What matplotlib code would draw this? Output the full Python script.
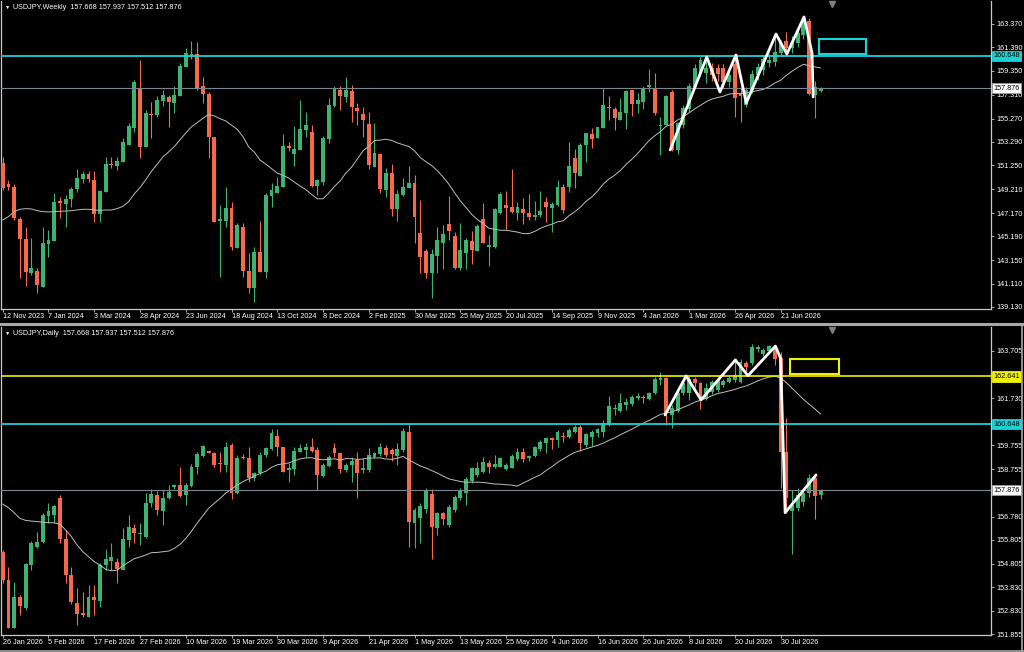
import numpy as np
import matplotlib
matplotlib.use("Agg")
import matplotlib.pyplot as plt
from matplotlib.patches import Rectangle
from matplotlib.lines import Line2D

plt.rcParams['font.family'] = ['Liberation Sans', 'DejaVu Sans']

# ---------------- weekly USDJPY ----------------
wk_open = [151.44, 149.64, 149.44, 146.67, 144.93, 142.01, 142.24, 140.82, 144.50, 144.81,
           148.21, 147.95, 148.35, 149.24, 150.07, 150.49, 150.01, 147.07, 149.01, 151.41,
           151.24, 151.58, 153.01, 154.43, 157.86, 152.84, 155.63, 155.58, 156.78, 157.09,
           156.63, 157.23, 159.72, 160.72, 160.83, 158.06, 157.38, 153.66, 146.53, 146.50,
           147.64, 144.21, 145.98, 142.21, 140.73, 143.81, 142.16, 148.64, 148.92, 149.38,
           152.89, 152.24, 152.58, 154.29, 154.09, 149.50, 149.81, 153.52, 156.35, 157.72,
           157.09, 157.66, 156.18, 155.66, 154.78, 151.15, 152.21, 149.15, 150.64, 147.52,
           148.72, 149.35, 149.72, 145.44, 143.96, 142.01, 143.53, 144.64, 146.24, 145.21,
           142.44, 143.79, 144.81, 143.96, 146.64, 144.30, 144.30, 147.15, 147.87, 147.72,
           147.15, 147.52, 147.15, 146.81, 147.01, 148.12, 147.58, 147.87, 149.44, 149.44,
           151.87, 150.35, 153.01, 153.95, 153.61, 154.43, 156.29, 156.06, 155.15, 155.72,
           157.72, 156.52, 156.72, 158.00, 157.86, 154.63, 154.72, 157.58, 152.58, 154.72,
           156.10, 158.00, 159.14, 159.14, 159.60, 159.60, 159.60, 158.40, 159.90, 157.50,
           156.45, 157.75, 159.00, 159.40, 160.00, 160.10, 160.90, 161.90, 161.30, 161.70,
           162.40, 163.60, 157.30, 157.668]
wk_high = [152.01, 150.01, 149.67, 146.87, 146.01, 145.01, 142.44, 146.01, 145.73, 148.87,
           148.58, 148.72, 149.44, 150.92, 150.78, 150.81, 150.81, 149.15, 152.01, 152.01,
           151.95, 153.58, 154.86, 158.57, 160.29, 156.00, 156.72, 157.20, 157.72, 157.29,
           158.06, 160.00, 161.29, 161.94, 161.86, 158.86, 157.57, 153.72, 147.87, 149.44,
           148.15, 146.30, 146.30, 143.79, 144.30, 146.50, 148.92, 149.72, 150.29, 153.95,
           153.29, 154.63, 156.86, 155.86, 154.72, 150.07, 153.78, 157.00, 158.06, 158.06,
           158.86, 158.15, 156.58, 156.23, 155.86, 154.86, 152.35, 151.01, 151.35, 149.15,
           150.15, 151.21, 150.44, 148.30, 144.07, 144.07, 145.96, 146.15, 148.64, 145.58,
           146.30, 145.01, 145.64, 146.21, 148.01, 145.30, 147.58, 149.01, 149.10, 150.92,
           148.15, 148.50, 148.81, 148.21, 149.10, 148.58, 148.15, 150.01, 149.64, 153.29,
           152.64, 153.15, 154.06, 154.43, 154.58, 157.86, 157.20, 156.29, 157.00, 157.72,
           157.72, 157.43, 158.06, 159.49, 159.20, 155.43, 157.29, 157.72, 155.00, 156.40,
           158.30, 159.90, 160.50, 160.60, 160.00, 159.90, 159.90, 159.40, 160.60, 158.00,
           158.00, 159.40, 160.00, 160.70, 160.80, 162.50, 162.00, 162.70, 162.30, 162.90,
           164.00, 163.90, 158.50, 157.937]
wk_low = [149.15, 149.15, 146.58, 141.59, 140.96, 141.87, 140.30, 140.82, 143.44, 144.81,
          146.73, 145.96, 147.72, 149.01, 149.72, 149.87, 146.44, 146.44, 149.01, 151.01,
          150.86, 151.58, 153.01, 154.15, 151.86, 152.81, 153.58, 155.43, 156.35, 154.52,
          155.72, 157.20, 159.66, 160.34, 157.72, 156.58, 151.92, 146.44, 141.67, 146.01,
          144.01, 144.21, 141.73, 140.30, 139.59, 142.10, 141.64, 147.72, 148.87, 149.38,
          152.52, 151.21, 152.58, 153.72, 149.44, 148.72, 149.58, 153.15, 156.23, 156.00,
          156.72, 155.01, 154.72, 153.72, 150.92, 151.15, 148.87, 148.58, 146.93, 146.53,
          148.67, 149.30, 144.58, 142.01, 141.59, 139.87, 142.01, 142.36, 144.87, 142.36,
          142.30, 142.36, 142.79, 143.93, 144.58, 142.64, 144.16, 147.07, 145.78, 147.21,
          146.58, 146.24, 146.58, 146.58, 146.81, 146.44, 145.53, 147.78, 147.21, 149.01,
          149.35, 150.35, 151.58, 152.72, 153.58, 154.43, 155.15, 154.29, 155.15, 154.38,
          155.52, 155.72, 156.06, 157.57, 155.58, 152.15, 154.72, 152.45, 152.20, 154.50,
          155.80, 157.90, 158.90, 158.30, 158.50, 158.50, 157.90, 158.00, 155.40, 155.00,
          156.30, 157.50, 158.60, 159.00, 159.70, 159.80, 160.60, 160.80, 160.90, 161.40,
          162.10, 157.30, 155.30, 157.512]
wk_close = [149.30, 149.44, 146.73, 144.93, 142.10, 142.44, 141.02, 144.58, 144.87, 148.12,
            148.07, 148.35, 149.24, 150.21, 150.52, 150.07, 147.07, 149.07, 151.38, 151.29,
            151.64, 153.29, 154.63, 158.40, 152.86, 155.78, 155.55, 156.86, 157.26, 156.72,
            157.29, 159.80, 160.86, 160.83, 157.80, 157.38, 153.72, 146.44, 146.64, 147.58,
            144.30, 146.15, 142.24, 140.79, 143.84, 142.10, 148.72, 149.15, 149.52, 152.92,
            152.72, 152.64, 154.35, 154.69, 149.52, 150.01, 153.58, 156.43, 157.80, 157.20,
            157.72, 156.23, 155.95, 155.15, 151.29, 152.35, 149.24, 150.64, 147.52, 148.81,
            149.38, 149.78, 146.81, 143.38, 142.01, 143.64, 144.87, 145.38, 145.64, 142.47,
            144.01, 144.87, 144.01, 146.07, 144.58, 144.44, 147.50, 148.81, 147.64, 147.30,
            147.67, 147.15, 146.87, 147.01, 147.38, 147.67, 147.92, 149.44, 147.44, 151.21,
            150.64, 153.01, 154.00, 153.49, 154.52, 156.43, 156.20, 155.35, 155.83, 157.66,
            156.52, 156.86, 157.92, 158.15, 155.72, 154.75, 157.20, 152.58, 154.87, 156.20,
            158.06, 159.57, 160.29, 159.57, 159.00, 159.10, 158.40, 159.00, 157.00, 157.20,
            157.75, 159.10, 159.70, 160.40, 160.30, 161.00, 161.70, 161.30, 161.70, 162.60,
            163.60, 157.40, 157.95, 157.876]
wk_ma_head = [146.58, 146.87, 147.30, 147.50, 147.55, 147.53, 147.38, 147.30, 147.27, 147.30,
              147.33, 147.35, 147.38, 147.44, 147.50, 147.50, 147.44, 147.41, 147.44]
wk_dates = ["12 Nov 2023", "7 Jan 2024", "3 Mar 2024", "28 Apr 2024", "23 Jun 2024",
            "18 Aug 2024", "13 Oct 2024", "8 Dec 2024", "2 Feb 2025", "30 Mar 2025",
            "25 May 2025", "20 Jul 2025", "14 Sep 2025", "9 Nov 2025", "4 Jan 2026",
            "1 Mar 2026", "26 Apr 2026", "21 Jun 2026"]
wk_yticks = [163.370, 161.390, 159.350, 157.310, 155.270, 153.290, 151.250,
             149.210, 147.170, 145.190, 143.150, 141.110, 139.130]
wk_zz_x = [116.7, 123.1, 125.4, 128.2, 130.0, 135.2, 137.1, 140.1, 141.5, 141.7]
wk_zz_y = [152.58, 160.54, 157.55, 160.71, 156.60, 162.51, 160.80, 163.97, 160.89, 157.12]
wk_box = (142.7, 150.9, 160.77, 162.09)   # x0, x1, y0, y1

# ---------------- daily USDJPY ----------------
d_open = [155.31, 154.13, 152.10, 153.40, 152.94, 154.75, 155.52, 155.70, 156.80, 156.85,
          157.54, 155.83, 154.33, 153.15, 152.73, 152.56, 153.43, 153.26, 154.75, 154.93,
          154.86, 154.54, 155.80, 156.29, 156.05, 155.91, 157.33, 157.68, 157.03, 157.54,
          158.03, 158.10, 157.68, 158.07, 158.84, 159.31, 159.51, 159.45, 159.01, 158.94,
          159.77, 157.75, 159.28, 159.21, 158.38, 158.59, 159.35, 159.59, 160.15, 159.68,
          158.73, 158.76, 159.49, 159.56, 159.68, 159.56, 158.48, 158.89, 159.63, 159.45,
          158.73, 158.94, 159.14, 158.73, 158.73, 159.28, 159.40, 159.63, 159.56, 159.31,
          159.56, 160.30, 156.52, 156.71, 157.08, 157.71, 156.29, 156.92, 156.43, 157.05,
          157.54, 157.75, 158.28, 158.52, 158.66, 159.01, 158.87, 158.87, 158.76, 158.82,
          159.17, 159.49, 159.21, 159.31, 159.59, 159.84, 160.05, 159.98, 160.15, 160.09,
          160.33, 160.54, 159.77, 160.09, 160.29, 160.33, 160.61, 161.26, 161.21, 161.45,
          161.49, 161.72, 161.79, 161.70, 161.93, 162.49, 162.56, 161.03, 161.21, 161.94,
          161.94, 162.52, 162.38, 161.68, 162.00, 162.07, 162.28, 162.42, 162.49, 162.42,
          163.22, 163.19, 163.78, 163.57, 163.72, 163.89, 163.40, 159.49, 157.00, 157.15,
          157.40, 157.75, 158.40, 157.668]
d_high = [155.38, 154.68, 154.06, 153.50, 154.82, 155.77, 156.15, 156.94, 157.33, 157.26,
          157.68, 156.22, 154.66, 153.78, 153.64, 153.92, 153.92, 154.82, 155.41, 155.66,
          155.03, 156.29, 156.85, 156.47, 156.52, 157.78, 157.92, 157.86, 157.89, 158.10,
          158.15, 158.87, 158.17, 158.96, 159.49, 159.77, 159.53, 159.49, 159.47, 159.91,
          159.84, 159.35, 159.40, 159.68, 158.66, 159.47, 159.70, 160.43, 160.43, 159.70,
          159.01, 159.70, 159.81, 159.84, 160.05, 159.70, 159.01, 159.35, 159.84, 159.45,
          159.01, 159.26, 159.49, 159.21, 159.63, 159.49, 159.84, 159.77, 159.63, 159.84,
          160.47, 160.71, 157.12, 157.33, 157.96, 157.92, 156.98, 156.98, 157.26, 157.68,
          157.96, 158.45, 158.87, 159.08, 159.26, 159.15, 159.35, 159.26, 159.01, 159.40,
          159.63, 159.63, 159.35, 159.73, 159.98, 160.09, 160.09, 160.40, 160.33, 160.47,
          160.61, 160.61, 160.29, 160.40, 160.47, 160.82, 161.82, 161.49, 161.93, 161.72,
          161.86, 161.93, 161.86, 162.00, 162.60, 162.84, 162.60, 161.45, 162.00, 162.50,
          162.66, 162.60, 162.42, 162.35, 162.50, 162.60, 162.55, 162.65, 163.33, 163.36,
          163.30, 164.00, 163.96, 163.85, 163.96, 163.96, 163.68, 160.89, 157.90, 157.96,
          157.90, 158.55, 158.55, 157.937]
d_low = [153.99, 152.10, 152.10, 152.66, 152.87, 154.54, 155.45, 155.66, 156.50, 156.50,
         155.66, 153.99, 153.12, 152.24, 152.59, 152.56, 152.66, 153.01, 154.54, 154.54,
         153.99, 154.54, 155.52, 155.66, 155.59, 155.87, 157.19, 156.85, 156.43, 157.50,
         157.95, 157.61, 157.26, 158.03, 158.56, 159.28, 159.42, 158.87, 158.66, 158.66,
         157.50, 157.72, 159.20, 158.24, 158.28, 158.52, 159.28, 159.56, 159.31, 158.66,
         158.24, 158.52, 159.49, 159.28, 159.49, 157.89, 158.45, 158.87, 159.28, 158.59,
         158.66, 158.24, 157.57, 158.59, 158.66, 159.21, 159.31, 159.28, 159.12, 158.94,
         159.49, 155.52, 155.45, 155.66, 156.92, 154.99, 156.01, 156.43, 156.36, 156.98,
         157.47, 157.26, 158.20, 158.45, 158.62, 158.59, 158.80, 158.84, 158.73, 158.80,
         159.12, 159.08, 159.12, 159.28, 159.53, 159.42, 159.59, 159.70, 159.91, 160.05,
         160.26, 159.53, 159.70, 159.73, 160.12, 160.12, 160.57, 161.03, 161.17, 161.24,
         161.40, 161.65, 161.52, 161.65, 161.91, 162.28, 160.61, 160.47, 161.17, 161.85,
         161.66, 162.20, 161.27, 161.66, 161.90, 162.00, 162.20, 162.35, 162.40, 162.35,
         162.70, 163.12, 163.68, 163.50, 163.61, 163.12, 157.96, 156.94, 155.21, 157.00,
         157.20, 157.60, 156.66, 157.512]
d_close = [154.13, 152.10, 153.43, 153.04, 154.78, 155.66, 155.73, 156.85, 157.01, 157.22,
           155.83, 154.33, 153.22, 152.70, 152.66, 153.43, 153.29, 154.75, 154.99, 155.10,
           154.57, 155.83, 156.33, 156.11, 156.11, 157.33, 157.72, 157.05, 157.54, 157.82,
           158.10, 157.65, 158.10, 158.87, 159.38, 159.73, 159.45, 158.94, 158.98, 159.70,
           157.75, 159.24, 159.23, 158.38, 158.62, 159.35, 159.63, 160.26, 159.70, 158.66,
           158.80, 159.53, 159.63, 159.70, 159.53, 158.52, 158.94, 159.26, 159.42, 158.76,
           158.94, 159.10, 158.62, 158.80, 159.35, 159.42, 159.68, 159.35, 159.40, 159.61,
           160.37, 156.54, 157.05, 157.22, 157.86, 156.33, 156.92, 156.66, 157.17, 157.61,
           157.89, 158.34, 158.80, 158.80, 159.05, 158.87, 158.96, 159.21, 158.94, 159.31,
           159.49, 159.17, 159.31, 159.68, 159.91, 160.05, 159.98, 160.33, 160.12, 160.40,
           160.54, 159.87, 160.23, 160.33, 160.43, 160.68, 161.40, 161.31, 161.54, 161.59,
           161.77, 161.82, 161.72, 161.93, 162.52, 162.56, 161.10, 161.31, 161.94, 162.35,
           162.52, 162.35, 161.66, 162.14, 162.42, 162.49, 162.46, 162.56, 162.70, 163.26,
           163.05, 163.86, 163.89, 163.75, 163.91, 163.36, 159.49, 157.54, 157.26, 157.68,
           157.75, 158.38, 157.65, 157.876]
d_ma_head = [157.30, 157.15, 156.94, 156.70, 156.62, 156.59, 156.57, 156.54, 156.52, 156.52,
             156.45, 156.22, 155.94, 155.59, 155.31, 155.10, 154.89, 154.75, 154.57]
d_dates = ["26 Jan 2026", "5 Feb 2026", "17 Feb 2026", "27 Feb 2026", "10 Mar 2026",
           "19 Mar 2026", "30 Mar 2026", "9 Apr 2026", "21 Apr 2026", "1 May 2026",
           "13 May 2026", "25 May 2026", "4 Jun 2026", "16 Jun 2026", "26 Jun 2026",
           "8 Jul 2026", "20 Jul 2026", "30 Jul 2026"]
d_yticks = [163.705, 161.730, 159.755, 158.755, 156.780, 155.805, 154.805,
            153.830, 152.830, 151.855]
d_zz_x = [115.8, 119.5, 122.1, 128.1, 130.3, 135.1, 136.0, 136.8, 142.2]
d_zz_y = [161.03, 162.66, 161.66, 163.33, 162.67, 163.91, 163.40, 156.94, 158.52]
d_box = (137.6, 146.2, 162.73, 163.36)

bid = 157.876
level_cyan = 160.648
level_yellow = 162.641
ohlc_text = "157.668 157.937 157.512 157.876"

GREEN = '#3CB371'
RED = '#F8694C'
CYAN = '#19D3D6'
YELLOW = '#F0F000'
GRID = '#C8C8C8'
FS = 5.2


def sma20(close, head):
    close = np.asarray(close)
    ma = np.full(len(close), np.nan)
    ma[:len(head)] = head
    for i in range(19, len(close)):
        ma[i] = close[i - 19:i + 1].mean()
    return ma


def draw_candles(ax, o, h, l, c, min_body):
    o, h, l, c = map(np.asarray, (o, h, l, c))
    x = np.arange(len(o))
    col = np.where(c >= o, GREEN, RED)
    ax.vlines(x, l, h, colors=col, linewidth=0.8, zorder=3)
    ax.bar(x, np.maximum(np.abs(c - o), min_body), bottom=np.minimum(o, c),
           width=0.68, color=col, linewidth=0, zorder=4)


def price_box(ax, y, fc, ec):
    ax.annotate(f"{y:.3f}", xy=(1, y), xycoords=('axes fraction', 'data'),
                xytext=(1.5, 0), textcoords='offset points', ha='left', va='center',
                fontsize=FS, color='black', annotation_clip=False, zorder=20,
                bbox=dict(boxstyle='square,pad=0.22', fc=fc, ec=ec, lw=0.6))


def setup(ax, ylim, yticks, dates, title):
    ax.set_facecolor('black')
    ax.set_xlim(-0.3, 172.8)
    ax.set_ylim(*ylim)
    ax.yaxis.tick_right()
    ax.set_yticks(yticks)
    ax.set_yticklabels([f"{t:.3f}" for t in yticks])
    ax.set_xticks(np.arange(len(dates)) * 8)
    ax.set_xticklabels(dates, ha='left')
    ax.tick_params(axis='y', colors=GRID, labelcolor='white', labelsize=FS,
                   length=2.5, width=0.6, pad=1.2)
    ax.tick_params(axis='x', colors=GRID, labelcolor='white', labelsize=FS,
                   length=2.5, width=0.6, pad=0.6)
    ax.spines['top'].set_visible(False)
    for s in ('right', 'bottom', 'left'):
        ax.spines[s].set_color(GRID)
        ax.spines[s].set_linewidth(0.9)
    ax.text(0.004, 0.978, "\u25bc", transform=ax.transAxes, color='white',
            fontsize=3.8, va='center', ha='left')
    ax.text(0.012, 0.978, title + "  " + ohlc_text, transform=ax.transAxes,
            color='white', fontsize=FS, va='center', ha='left')
    ax.plot([145.0], [0.99], marker='v', color='#808080', markersize=4,
            transform=ax.get_xaxis_transform(), clip_on=False, zorder=7)


fig = plt.figure(figsize=(10.24, 6.52), dpi=100, facecolor='black')
ax_w = fig.add_axes([0.001, 0.5261, 0.9668, 0.4724])
ax_d = fig.add_axes([0.001, 0.0261, 0.9668, 0.4724])

# weekly panel
setup(ax_w, (138.96, 165.34), wk_yticks, wk_dates, "USDJPY,Weekly")
draw_candles(ax_w, wk_open, wk_high, wk_low, wk_close, 0.07)
ax_w.plot(np.arange(len(wk_close)), sma20(wk_close, wk_ma_head), color='#BEBEBE',
          lw=0.7, zorder=5)
ax_w.axhline(level_cyan, color=CYAN, lw=1.3, zorder=6)
ax_w.axhline(bid, color='#7A8590', lw=0.8, zorder=6)
ax_w.plot(wk_zz_x, wk_zz_y, color='white', lw=2.0, zorder=8, solid_capstyle='round',
          solid_joinstyle='round')
x0, x1, y0, y1 = wk_box
ax_w.add_patch(Rectangle((x0, y0), x1 - x0, y1 - y0, fill=False, ec=CYAN, lw=1.5, zorder=8))
price_box(ax_w, level_cyan, CYAN, CYAN)
price_box(ax_w, bid, 'white', '#9A9A9A')

# daily panel
setup(ax_d, (151.825, 164.709), d_yticks, d_dates, "USDJPY,Daily")
draw_candles(ax_d, d_open, d_high, d_low, d_close, 0.035)
ax_d.plot(np.arange(len(d_close)), sma20(d_close, d_ma_head), color='#BEBEBE',
          lw=0.7, zorder=5)
ax_d.axhline(level_yellow, color=YELLOW, lw=1.2, zorder=6)
ax_d.axhline(level_cyan, color=CYAN, lw=1.3, zorder=6)
ax_d.axhline(bid, color='#7A8590', lw=0.8, zorder=6)
ax_d.plot(d_zz_x, d_zz_y, color='white', lw=2.0, zorder=8, solid_capstyle='round',
          solid_joinstyle='round')
x0, x1, y0, y1 = d_box
ax_d.add_patch(Rectangle((x0, y0), x1 - x0, y1 - y0, fill=False, ec=YELLOW, lw=1.5, zorder=8))
price_box(ax_d, level_yellow, YELLOW, YELLOW)
price_box(ax_d, level_cyan, CYAN, CYAN)
price_box(ax_d, bid, 'white', '#9A9A9A')

# window separators
sep_y = 1 - 324 / 652
fig.add_artist(Line2D([0, 1], [sep_y, sep_y], transform=fig.transFigure,
                      color='#A8A8A8', lw=2.2))
fig.add_artist(Line2D([0.9985, 0.9985], [0.0, sep_y], transform=fig.transFigure,
                      color='#A8A8A8', lw=1.2))
fig.add_artist(Line2D([0, 1], [0.002, 0.002], transform=fig.transFigure,
                      color='#A8A8A8', lw=1.2))

fig.savefig("out.png", dpi=100, facecolor='black')
